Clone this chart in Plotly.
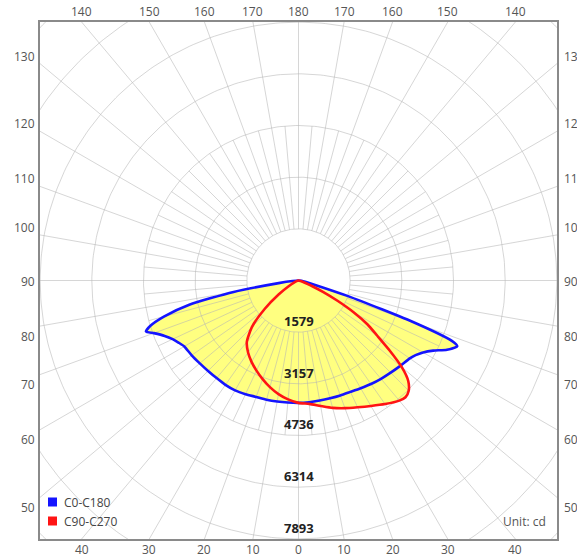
import numpy as np
import plotly.graph_objects as go

# ---------------- data ----------------
ring_values = [1579, 3157, 4736, 6314, 7893]
ring_labels = ["1579", "3157", "4736", "6314", "7893"]
series_names = ["C0-C180", "C90-C270"]

# C0 half (right side), gamma in degrees from nadir, intensity in cd
gamma_c0 = [0, 5, 10, 15, 20, 25, 30, 35, 40, 45, 50, 55, 57.5, 60, 62.5, 65, 67.5, 68.5, 70, 72.5, 75, 80, 85, 90]
i_c0 = [3740, 3734, 3725, 3725, 3737, 3755, 3801, 3862, 3923, 3984, 4060, 4152, 4244, 4396, 4641, 5007, 5251, 5037, 3816, 1588, 550, 183, 92, 0]

# C180 half (left side)
gamma_c180 = [0, 5, 10, 15, 20, 25, 30, 35, 40, 45, 50, 55, 60, 62.5, 65, 67.5, 70, 71.5, 73, 75, 77.5, 80, 82.5, 85, 90]
i_c180 = [3740, 3743, 3755, 3771, 3786, 3832, 3877, 3893, 3893, 3908, 3938, 3984, 4030, 4122, 4244, 4427, 4702, 4915, 4732, 4259, 3419, 2015, 611, 183, 0]

# C90 half (right side)
gamma_c90 = [0, 5, 10, 15, 20, 25, 30, 35, 40, 42.5, 45, 47.5, 50, 52.5, 55, 57.5, 60, 62.5, 65, 67.5, 70, 75, 80, 90]
i_c90 = [3725, 3786, 3893, 4030, 4152, 4274, 4427, 4610, 4793, 4839, 4763, 4549, 4122, 3511, 2931, 2503, 1954, 1343, 824, 458, 244, 92, 31, 0]

# C270 half (left side)
gamma_c270 = [0, 5, 10, 15, 20, 25, 30, 35, 40, 45, 50, 55, 60, 65, 70, 80, 90]
i_c270 = [3740, 3648, 3526, 3374, 3206, 3038, 2870, 2687, 2458, 2015, 1343, 733, 336, 153, 61, 15, 0]

bottom_ticks = [0, 10, 20, 30, 40]
top_ticks = [180, 170, 160, 150, 140]
side_ticks = [50, 60, 70, 80, 90, 100, 110, 120, 130]

R = 7900.0
MAJOR_DEG = 10
MINOR_DEG = 5

# ---------------- helpers ----------------
def half_xy(gam, inten, side):
    g = np.radians(np.asarray(gam, dtype=float))
    r = np.asarray(inten, dtype=float)
    return side * r * np.sin(g), -r * np.cos(g)


def closed_curve(g_left, i_left, g_right, i_right):
    xl, yl = half_xy(g_left, i_left, -1)
    xr, yr = half_xy(g_right, i_right, 1)
    x = np.concatenate([xl[::-1], xr[1:]])
    y = np.concatenate([yl[::-1], yr[1:]])
    return x, y


bx, by = closed_curve(gamma_c180, i_c180, gamma_c0, i_c0)
rx, ry = closed_curve(gamma_c270, i_c270, gamma_c90, i_c90)

fig = go.Figure()

fill_col = "#FFFF80"
for x, y in [(bx, by), (rx, ry)]:
    fig.add_trace(go.Scatter(x=x, y=y, mode="lines", fill="toself", fillcolor=fill_col,
                             line=dict(width=0, color=fill_col, shape="spline", smoothing=0.6),
                             hoverinfo="skip", showlegend=False))

# grid
ring_step = ring_values[0]
gx, gy = [], []
t = np.linspace(0, 2 * np.pi, 361)
for k in range(1, 8):
    rr = ring_step * k
    gx += list(rr * np.cos(t)) + [None]
    gy += list(rr * np.sin(t)) + [None]
for a in range(0, 360, MINOR_DEG):
    th = np.radians(a)
    r_end = 13000 if a % MAJOR_DEG == 0 else ring_values[2]
    gx += [ring_step * np.sin(th), r_end * np.sin(th), None]
    gy += [ring_step * np.cos(th), r_end * np.cos(th), None]
fig.add_trace(go.Scatter(x=gx, y=gy, mode="lines",
                         line=dict(color="rgba(180,180,180,0.55)", width=1),
                         hoverinfo="skip", showlegend=False))

fig.add_trace(go.Scatter(x=bx, y=by, mode="lines", name=series_names[0],
                         line=dict(color="#1414ff", width=2.6, shape="spline", smoothing=0.6),
                         showlegend=False))
fig.add_trace(go.Scatter(x=rx, y=ry, mode="lines", name=series_names[1],
                         line=dict(color="#ff1414", width=2.6, shape="spline", smoothing=0.6),
                         showlegend=False))

ann = []
lab_font = dict(family="Open Sans, Noto Sans, sans-serif", size=12, color="#555555")

# ring labels
for v, lab in zip(ring_values, ring_labels):
    ann.append(dict(x=0, y=-v, xref="x", yref="y", text=f"<b>{lab}</b>", showarrow=False,
                    yanchor="bottom", xanchor="center",
                    font=dict(family="Open Sans, Noto Sans, sans-serif", size=13, color="#222222")))

# bottom / top angle labels
for a in bottom_ticks:
    for s in ([1] if a == 0 else [-1, 1]):
        ann.append(dict(x=s * R * np.tan(np.radians(a)), y=0, xref="x", yref="paper",
                        text=str(a), showarrow=False, yanchor="top", xanchor="center",
                        yshift=0, font=lab_font))
for a in top_ticks:
    for s in ([1] if a == 180 else [-1, 1]):
        ann.append(dict(x=s * R * np.tan(np.radians(180 - a)), y=1, xref="x", yref="paper",
                        text=str(a), showarrow=False, yanchor="bottom", xanchor="center",
                        yshift=0, font=lab_font))
# side labels (right-hand ones run past the window edge, as in the original)
for a in side_ticks:
    yv = -R / np.tan(np.radians(a)) if a != 90 else 0.0
    ysh = -10 if a < 90 else (7.5 if a > 90 else -1)
    ann.append(dict(x=0, y=yv, xref="paper", yref="y", text=str(a), showarrow=False,
                    xanchor="right", yanchor="middle", xshift=-3, yshift=ysh, font=lab_font))
    ann.append(dict(x=1, y=yv, xref="paper", yref="y", text=str(a), showarrow=False,
                    xanchor="left", yanchor="middle", xshift=5, yshift=ysh, font=lab_font))

# legend (manual)
W = 517.0
def px(xp):
    return (xp - 40) / W
def py(yp):
    return (539 - yp) / W

shapes = []
leg_cols = ["#1414ff", "#ff1414"]
leg_y = [502, 521]
for name, col, yc in zip(series_names, leg_cols, leg_y):
    shapes.append(dict(type="rect", xref="paper", yref="paper",
                       x0=px(48), x1=px(57), y0=py(yc + 4.5), y1=py(yc - 4.5),
                       fillcolor=col, line=dict(width=0)))
    ann.append(dict(x=px(62), y=py(yc), xref="paper", yref="paper", text=name, showarrow=False,
                    xanchor="left", yanchor="middle",
                    font=dict(family="Open Sans, Noto Sans, sans-serif", size=12, color="#444444")))

ann.append(dict(x=px(548), y=py(521), xref="paper", yref="paper", text="Unit: cd", showarrow=False,
                xanchor="right", yanchor="middle",
                font=dict(family="Open Sans, Noto Sans, sans-serif", size=12, color="#555555")))

axis_common = dict(range=[-R, R], showgrid=False, zeroline=False, showticklabels=False,
                   ticks="", showline=True, mirror=True, linecolor="#8a8a8a", linewidth=1.5,
                   fixedrange=True)

fig.update_layout(
    width=577, height=558,
    margin=dict(l=40, r=20, t=22, b=19),
    paper_bgcolor="white", plot_bgcolor="white",
    xaxis=axis_common, yaxis=axis_common,
    annotations=ann, shapes=shapes,
    showlegend=False,
)

fig.write_html("out.html")
